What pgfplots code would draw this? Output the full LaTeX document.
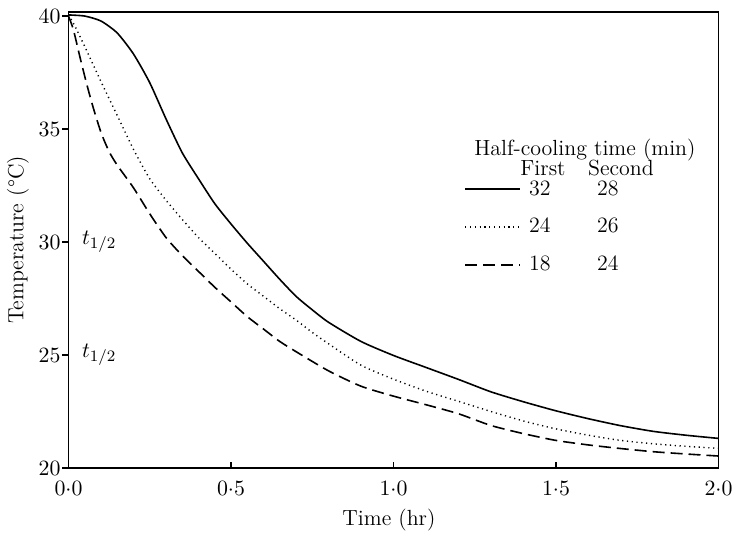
\documentclass[border=0pt]{standalone}
\usepackage{pgfplots}
\pgfplotsset{compat=1.18}
\begin{document}
\begin{tikzpicture}[font=\fontsize{11}{13.2}\selectfont]
\begin{axis}[
  scale only axis, width=325bp, height=228bp,
  xmin=0, xmax=2, ymin=20, ymax=40.18,
  axis line style={line width=0.9bp},
  xtick={0,0.5,1,1.5,2},
  xticklabel={$\pgfmathprintnumber[fixed,fixed zerofill,precision=1,set decimal separator={\mathord{\cdot}}]{\tick}$},
  ytick={20,25,30,35,40},
  xtick pos=bottom, ytick pos=left,
  xtick align=inside, ytick align=outside,
  major tick length=3bp,
  tick style={line width=0.8bp, black},
  xticklabel style={yshift=-3bp},
  yticklabel style={xshift=2.5bp},
  xlabel={Time (hr)}, ylabel={Temperature (\textdegree C)},
  every axis x label/.style={at={(axis description cs:0.493,-0.114)}, anchor=center},
  every axis y label/.style={at={(axis description cs:-0.078,0.5)}, rotate=90, anchor=center},
  legend style={at={(axis cs:1.217,32.83)}, anchor=north west, draw=none, fill=none,
    row sep=8bp, inner sep=0pt, nodes={inner sep=1bp, anchor=west}},
  legend cell align=left,
  legend image code/.code={\draw[#1] (0bp,0bp) -- (27.5bp,0bp);},
]
\addplot[black, line width=0.8bp, smooth, tension=0.4] coordinates {
(0,40.05)(0.05,40.0)(0.1,39.78)(0.15,39.25)(0.2,38.32)(0.25,37.05)(0.3,35.45)(0.35,33.95)
(0.4,32.8)(0.45,31.7)(0.5,30.8)(0.55,29.95)(0.6,29.15)(0.65,28.35)(0.7,27.6)(0.75,27.0)
(0.8,26.45)(0.9,25.6)(1.0,24.98)(1.1,24.45)(1.2,23.92)(1.3,23.37)(1.4,22.93)(1.5,22.53)
(1.6,22.18)(1.7,21.87)(1.8,21.62)(1.9,21.45)(2.0,21.31)};
\addlegendentry{\hspace{3bp}32\hspace{23.3bp}28}
\addplot[black, line width=0.7bp, dash pattern=on 0.6bp off 1.8bp, smooth, tension=0.4] coordinates {
(0,40.05)(0.02,39.55)(0.05,38.65)(0.1,37.1)(0.15,35.6)(0.2,34.1)(0.25,32.8)(0.3,31.85)
(0.35,31.0)(0.4,30.2)(0.45,29.5)(0.5,28.8)(0.55,28.15)(0.6,27.6)(0.65,27.05)(0.7,26.55)
(0.75,26.0)(0.8,25.5)(0.9,24.55)(1.0,23.93)(1.1,23.4)(1.2,22.95)(1.3,22.5)(1.4,22.08)
(1.5,21.73)(1.6,21.45)(1.7,21.22)(1.8,21.07)(1.9,20.96)(2.0,20.87)};
\addlegendentry{\hspace{3bp}24\hspace{23.3bp}26}
\addplot[black, line width=0.8bp, dash pattern=on 6bp off 3bp, smooth, tension=0.4] coordinates {
(0,40.0)(0.015,39.4)(0.035,38.2)(0.055,37.05)(0.075,36.0)(0.1,34.85)(0.125,34.0)(0.15,33.4)
(0.2,32.4)(0.25,31.25)(0.3,30.2)(0.35,29.4)(0.4,28.7)(0.45,28.0)(0.5,27.35)(0.55,26.7)
(0.6,26.15)(0.65,25.6)(0.7,25.15)(0.8,24.3)(0.9,23.62)(1.0,23.18)(1.1,22.8)(1.2,22.4)
(1.3,21.88)(1.4,21.52)(1.5,21.22)(1.6,21.02)(1.7,20.86)(1.8,20.72)(1.9,20.62)(2.0,20.53)};
\addlegendentry{\hspace{3bp}18\hspace{23.3bp}24}
\node at (axis cs:1.589,34.07) {Half-cooling time (min)};
\node at (axis cs:1.46,33.27) {First};
\node at (axis cs:1.70,33.27) {Second};
\node[anchor=west] at (axis cs:0.02,30) {$t_{1/2}$};
\node[anchor=west] at (axis cs:0.02,25) {$t_{1/2}$};
\end{axis}
\pgfresetboundingbox
\path[use as bounding box] (-34.25bp,-32.5bp) rectangle (332.25bp,234bp);
\end{tikzpicture}
\end{document}
